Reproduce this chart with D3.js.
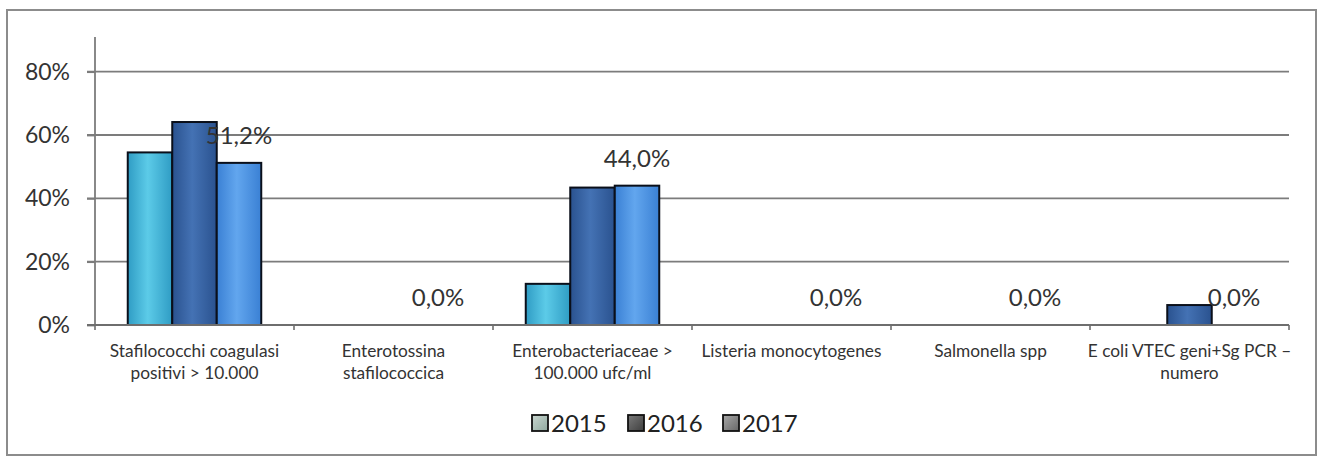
<!DOCTYPE html>
<html><head><meta charset="utf-8">
<script src="https://cdn.jsdelivr.net/npm/d3@7"></script>
<style>
html,body{margin:0;padding:0;background:#fff;}
svg{display:block;font-family:Lato,"Open Sans",sans-serif;}
</style></head>
<body>
<svg id="chart" width="1317" height="457"></svg>
<script>
const categories = [
  "Stafilococchi coagulasi|positivi > 10.000",
  "Enterotossina|stafilococcica",
  "Enterobacteriaceae >|100.000 ufc/ml",
  "Listeria monocytogenes",
  "Salmonella spp",
  "E coli VTEC geni+Sg PCR –|numero"
];
const years = ["2015","2016","2017"];
const values2015 = [0.545, 0, 0.130, 0, 0, 0];
const values2016 = [0.641, 0, 0.434, 0, 0, 0.063];
const values2017 = [0.512, 0, 0.440, 0, 0, 0];
const yTicks = [0, 0.2, 0.4, 0.6, 0.8];
const labelSeries = "2017";

const seriesVals = {"2015": values2015, "2016": values2016, "2017": values2017};
const colors = {
  "2015": ["#2f9cc4", "#5ccbe8"],
  "2016": ["#2a528f", "#4472b4"],
  "2017": ["#3a80d4", "#62a6ee"]
};
const legendColors = {"2015": ["#8fa89e", "#c9d6d0"], "2016": ["#3e3e3e", "#7a7a7a"], "2017": ["#666", "#a8a8a8"]};

const svg = d3.select("#chart");
const defs = svg.append("defs");
years.forEach(yr => {
  const g = defs.append("linearGradient").attr("id", "g" + yr).attr("x1", "0").attr("x2", "1").attr("y1", "0").attr("y2", "0");
  g.append("stop").attr("offset", "0%").attr("stop-color", colors[yr][0]);
  g.append("stop").attr("offset", "45%").attr("stop-color", colors[yr][1]);
  g.append("stop").attr("offset", "100%").attr("stop-color", colors[yr][0]);
  const l = defs.append("linearGradient").attr("id", "l" + yr).attr("x1", "0").attr("x2", "1").attr("y1", "0").attr("y2", "1");
  l.append("stop").attr("offset", "0%").attr("stop-color", legendColors[yr][1]);
  l.append("stop").attr("offset", "100%").attr("stop-color", legendColors[yr][0]);
});

// outer frame
svg.append("rect").attr("x", 7).attr("y", 10).attr("width", 1309).attr("height", 445)
  .attr("fill", "#fff").attr("stroke", "#8c8c8c").attr("stroke-width", 2);

const plotL = 95, plotR = 1289, plotT = 40, plotB = 325;
const x0 = d3.scaleBand().domain(categories).range([plotL, plotR]);
const x1 = d3.scaleBand().domain(years).range([0, x0.bandwidth()]).paddingOuter(0.736);
const y = d3.scaleLinear().domain([0, 0.9]).range([plotB, plotT]);

// gridlines
svg.append("g").selectAll("line").data(yTicks.filter(t => t > 0)).join("line")
  .attr("x1", plotL - 8).attr("x2", plotR)
  .attr("y1", d => y(d)).attr("y2", d => y(d))
  .attr("stroke", "#7c7c7c").attr("stroke-width", 1.8);

// y axis
const yAxis = svg.append("g").attr("transform", `translate(${plotL},0)`)
  .call(d3.axisLeft(y).tickValues(yTicks).tickFormat(d => Math.round(d * 100) + "%").tickSize(8).tickPadding(17));
yAxis.select(".domain").attr("d", `M0,${plotT - 3}V${plotB}`).attr("stroke", "#7c7c7c").attr("stroke-width", 1.8);
yAxis.selectAll(".tick line").attr("stroke", "#7c7c7c").attr("stroke-width", 1.8);
yAxis.selectAll(".tick text").attr("font-size", 23).attr("fill", "#333").attr("font-family", "Lato");

// bars
const groups = svg.append("g").selectAll("g").data(categories).join("g")
  .attr("transform", d => `translate(${x0(d)},0)`);
groups.selectAll("rect").data((c, i) => years.map(yr => ({yr, v: seriesVals[yr][i]})).filter(d => d.v > 0))
  .join("rect")
  .attr("x", d => x1(d.yr)).attr("width", x1.bandwidth())
  .attr("y", d => y(d.v)).attr("height", d => y(0) - y(d.v))
  .attr("fill", d => `url(#g${d.yr})`).attr("stroke", "#0a0f1a").attr("stroke-width", 2);

// x axis
const xAxis = svg.append("g").attr("transform", `translate(0,${plotB})`);
xAxis.append("line").attr("x1", plotL - 8).attr("x2", plotR).attr("y1", 0).attr("y2", 0)
  .attr("stroke", "#6e6e6e").attr("stroke-width", 1.8);
const boundaries = categories.map(c => x0(c)).concat([plotR]);
xAxis.selectAll("line.tk").data(boundaries).join("line").attr("class", "tk")
  .attr("x1", d => d).attr("x2", d => d).attr("y1", 0).attr("y2", 5)
  .attr("stroke", "#6e6e6e").attr("stroke-width", 1.6);

// category labels
const catLabels = svg.append("g").selectAll("text").data(categories).join("text")
  .attr("x", d => x0(d) + x0.bandwidth() / 2)
  .attr("y", 357)
  .attr("text-anchor", "middle").attr("font-size", 17.3).attr("fill", "#333");
catLabels.each(function(d) {
  const lines = d.split("|");
  const t = d3.select(this);
  lines.forEach((ln, i) => {
    t.append("tspan").attr("x", x0(d) + x0.bandwidth() / 2).attr("dy", i === 0 ? 0 : 22).text(ln);
  });
});

// data labels (2017 series)
svg.append("g").selectAll("text").data(categories).join("text")
  .attr("x", (c) => x0(c) + x1(labelSeries) + x1.bandwidth() / 2)
  .attr("y", (c, i) => y(seriesVals[labelSeries][i]) - 19)
  .attr("text-anchor", "middle").attr("font-size", 24).attr("fill", "#333")
  .text((c, i) => (seriesVals[labelSeries][i] * 100).toFixed(1).replace(".", ",") + "%");

// legend
const legendX = [532, 628, 723];
const lg = svg.append("g").selectAll("g").data(years).join("g")
  .attr("transform", (d, i) => `translate(${legendX[i]},415)`);
lg.append("rect").attr("width", 16).attr("height", 16).attr("fill", d => `url(#l${d})`)
  .attr("stroke", "#111").attr("stroke-width", 1.8);
lg.append("text").attr("x", 19).attr("y", 17).attr("font-size", 24).attr("fill", "#222").text(d => d);
</script>
</body></html>
